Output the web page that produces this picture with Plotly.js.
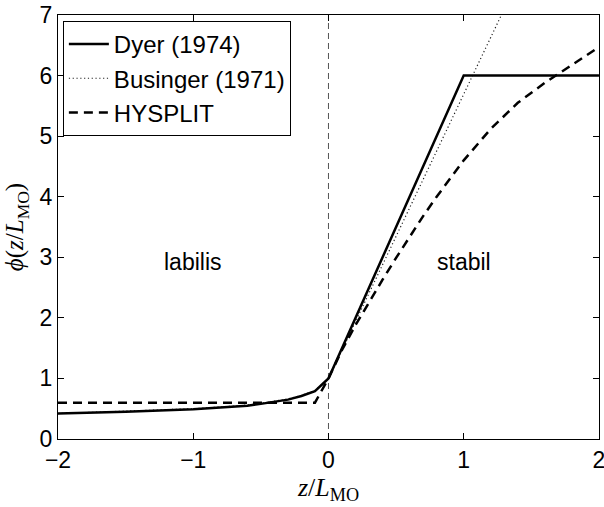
<!DOCTYPE html>
<html>
<head>
<meta charset="utf-8">
<script src="https://cdn.plot.ly/plotly-3.0.1.min.js"></script>
<style>
  html, body { margin: 0; padding: 0; background: #fff; }
  #chart { width: 604px; height: 507px; }
</style>
</head>
<body>
<div id="chart"></div>
<script>
// Stability function phi(z/L) for three parameterisations
const zetaDyer = [-2, -1.75, -1.5, -1.25, -1, -0.8, -0.6, -0.5, -0.4, -0.3, -0.2, -0.1, 0, 1, 2];
const phiDyer  = [0.42, 0.43, 0.45, 0.47, 0.49, 0.52, 0.55, 0.58, 0.61, 0.65, 0.71, 0.79, 1, 6, 6];

const zetaBusinger = [-2, -1.75, -1.5, -1.25, -1, -0.8, -0.6, -0.5, -0.4, -0.3, -0.2, -0.1, 0, 1.3];
const phiBusinger  = [0.42, 0.44, 0.46, 0.48, 0.50, 0.53, 0.56, 0.59, 0.62, 0.66, 0.72, 0.80, 1, 7.1];

const zetaHysplit = [-2, -0.1, 0, 0.1, 0.2, 0.3, 0.4, 0.5, 0.6, 0.7, 0.8, 0.9, 1.0, 1.2, 1.4, 1.6, 1.8, 2.0];
const phiHysplit  = [0.6, 0.6, 1, 1.47, 1.88, 2.26, 2.63, 2.99, 3.34, 3.68, 4.0, 4.31, 4.6, 5.12, 5.55, 5.88, 6.18, 6.47];

// neutral stability marker
const zetaNeutral = [0, 0];
const phiNeutral  = [0, 7];

const seriesNames = ['Dyer (1974)', 'Businger (1971)', 'HYSPLIT'];
const regimeLabels = ['labilis', 'stabil'];
const regimeZeta = [-1, 1];
const regimePhi = [2.92, 2.92];

const xTicks = [-2, -1, 0, 1, 2];
const yTicks = [0, 1, 2, 3, 4, 5, 6, 7];

const sans = 'Liberation Sans, Arial, Helvetica, sans-serif';
const serif = 'Liberation Serif, Times New Roman, DejaVu Serif, serif';

const traces = [
  {
    x: zetaNeutral, y: phiNeutral, mode: 'lines', showlegend: false, hoverinfo: 'skip',
    line: { color: '#555', width: 1, dash: '6px,4px' }
  },
  {
    x: zetaBusinger, y: phiBusinger, mode: 'lines', name: seriesNames[1], legendrank: 2,
    line: { color: '#222', width: 1.2, dash: '1.2px,2.6px' }
  },
  {
    x: zetaHysplit, y: phiHysplit, mode: 'lines', name: seriesNames[2], legendrank: 3,
    line: { color: '#000', width: 2.5, dash: '9px,6px' }
  },
  {
    x: zetaDyer, y: phiDyer, mode: 'lines', name: seriesNames[0], legendrank: 1,
    line: { color: '#000', width: 2.5 }
  }
];

const axisCommon = {
  showgrid: false, zeroline: false,
  showline: true, linecolor: '#000', linewidth: 1.2, mirror: 'ticks',
  ticks: 'inside', ticklen: 6, tickwidth: 1, tickcolor: '#000',
  tickfont: { family: sans, size: 23, color: '#000' }
};

const layout = {
  width: 604, height: 507,
  margin: { l: 58, r: 5, t: 15, b: 68 },
  paper_bgcolor: '#fff', plot_bgcolor: '#fff',
  showlegend: true,
  legend: {
    x: 0.009, y: 0.986, xanchor: 'left', yanchor: 'top',
    bgcolor: '#fff', bordercolor: '#000', borderwidth: 1,
    font: { family: sans, size: 24, color: '#000' },
    traceorder: 'normal', tracegroupgap: 0, itemwidth: 40
  },
  xaxis: Object.assign({}, axisCommon, {
    range: [-2, 2.0004], tickvals: xTicks, ticklabeloverflow: 'allow',
    title: { text: '<i>z</i>/<i>L</i><sub>MO</sub>', font: { family: serif, size: 26, color: '#000' }, standoff: 2 }
  }),
  yaxis: Object.assign({}, axisCommon, {
    range: [0, 7], tickvals: yTicks,
    title: { text: '<i>ϕ</i>(<i>z</i>/<i>L</i><sub>MO</sub>)', font: { family: serif, size: 25, color: '#000' }, standoff: 8 }
  }),
  annotations: regimeLabels.map((t, i) => ({
    x: regimeZeta[i], y: regimePhi[i], xref: 'x', yref: 'y', text: t, showarrow: false,
    font: { family: sans, size: 23, color: '#000' }
  }))
};

Plotly.newPlot('chart', traces, layout, { staticPlot: true, displayModeBar: false });
</script>
</body>
</html>
